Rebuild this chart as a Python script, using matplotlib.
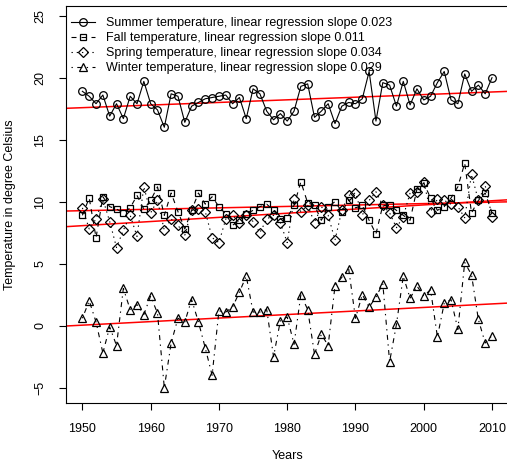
import matplotlib
matplotlib.use('Agg')
import matplotlib.pyplot as plt
from matplotlib.lines import Line2D
import numpy as np

plt.rcParams['font.family'] = ['Liberation Sans', 'DejaVu Sans']

years = np.arange(1950, 2011)

summer = [18.9, 18.5, 17.9, 18.6, 16.9, 17.9, 16.7, 18.5, 17.9, 19.7,
          17.9, 17.4, 16.0, 18.7, 18.5, 16.4, 17.7, 18.0, 18.3, 18.4,
          18.5, 18.6, 17.9, 18.4, 16.7, 19.1, 18.7, 17.3, 16.6, 17.1,
          16.5, 17.3, 19.3, 19.5, 16.8, 17.3, 17.9, 16.3, 17.7, 18.0,
          17.9, 18.3, 20.5, 16.5, 19.6, 19.4, 17.7, 19.7, 17.8, 19.1,
          18.2, 18.5, 19.6, 20.5, 18.2, 17.9, 20.3, 18.9, 19.4, 18.7,
          20.0]

fall = [8.9, 10.3, 7.1, 10.4, 9.6, 9.4, 9.1, 9.5, 10.5, 9.4,
        10.1, 11.2, 8.9, 10.7, 9.2, 7.8, 9.3, 10.7, 9.8, 10.4,
        9.6, 9.0, 8.1, 8.5, 9.0, 9.3, 9.6, 9.8, 9.3, 8.6,
        8.7, 9.7, 11.6, 9.9, 9.7, 8.5, 9.6, 10.0, 9.2, 10.1,
        9.5, 9.7, 8.5, 7.4, 9.7, 9.7, 9.3, 8.9, 8.5, 11.0,
        11.5, 10.3, 9.3, 9.6, 10.3, 11.2, 13.1, 9.1, 10.1, 10.7,
        9.1]

spring = [9.5, 7.8, 8.6, 10.2, 8.4, 6.3, 7.7, 8.9, 7.2, 11.2,
          9.1, 10.1, 7.7, 8.6, 8.1, 7.3, 9.3, 9.4, 9.2, 7.1,
          6.7, 8.6, 8.9, 8.3, 8.9, 8.4, 7.5, 8.6, 8.9, 8.3,
          6.7, 10.2, 9.2, 9.7, 8.3, 9.6, 8.9, 6.9, 9.3, 10.5,
          10.7, 8.9, 10.1, 10.8, 9.7, 9.1, 7.9, 8.8, 10.7, 10.8,
          11.6, 9.2, 10.2, 10.1, 9.8, 9.6, 8.7, 12.2, 10.1, 11.3,
          8.8]

winter = [0.6, 2.0, 0.3, -2.2, -0.1, -1.6, 3.0, 1.3, 1.7, 0.9,
          2.4, 1.0, -5.0, -1.4, 0.6, 0.3, 2.1, 0.3, -1.8, -4.0,
          1.2, 1.1, 1.5, 2.7, 4.0, 1.1, 1.1, 1.3, -2.5, 0.4,
          0.7, -1.5, 2.5, 1.3, -2.3, -0.7, -1.6, 3.2, 3.9, 4.6,
          0.6, 2.5, 1.5, 2.3, 3.4, -2.9, 0.1, 4.0, 2.2, 3.2,
          2.4, 2.9, -0.9, 1.8, 2.1, -0.3, 5.1, 4.1, 0.5, -1.4,
          -0.8]

labels = ['Summer temperature, linear regression slope 0.023',
          'Fall temperature, linear regression slope 0.011',
          'Spring temperature, linear regression slope 0.034',
          'Winter temperature, linear regression slope 0.029']
series = [summer, fall, spring, winter]
markers = ['o', 's', 'D', '^']
msizes = [5.5, 5.0, 4.8, 6.3]
dashes = [None, (4.5, 4.5), (1.2, 3.5), (1.2, 4, 4.5, 4)]

fig = plt.figure(figsize=(5.07, 4.63), dpi=100)
ax = fig.add_axes([66/507, 59.7/463, 442.4/507, 397.3/463])

handles = []
for y, m, ms, d, lab in zip(series, markers, msizes, dashes, labels):
    kw = dict(color='black', lw=0.8, marker=m, ms=ms, mfc='none',
              mec='black', mew=0.9)
    if d is None:
        kw['ls'] = '-'
    else:
        kw['dashes'] = d
    ax.plot(years, y, **kw)
    handles.append(Line2D([], [], label=lab, **kw))

# regression lines over full x range
xl = (1947.6, 2012.4)
for y in series:
    k, b = np.polyfit(years, y, 1)
    ax.plot(xl, [k*xl[0] + b, k*xl[1] + b], color='red', lw=1.1, zorder=1)

ax.set_xlim(*xl)
ax.set_ylim(-6.26, 25.78)
ax.set_xticks(np.arange(1950, 2011, 10))
ax.set_yticks(np.arange(-5, 26, 5))
ax.tick_params(labelsize=9, length=5, width=0.8, pad=9, colors='black')
for t in ax.get_yticklabels():
    t.set_rotation(90)
    t.set_va('center')
for s in ax.spines.values():
    s.set_linewidth(0.8)

ax.set_xlabel('Years', fontsize=9, labelpad=11)
ax.set_ylabel('Temperature in degree Celsius', fontsize=9, labelpad=13)

ax.legend(handles=handles, loc='upper left', bbox_to_anchor=(0.0, 0.985),
          frameon=False, fontsize=9, handlelength=1.9, handletextpad=0.9,
          labelspacing=0.25, borderaxespad=0.2, borderpad=0.2)

fig.savefig('out.png', dpi=100)
